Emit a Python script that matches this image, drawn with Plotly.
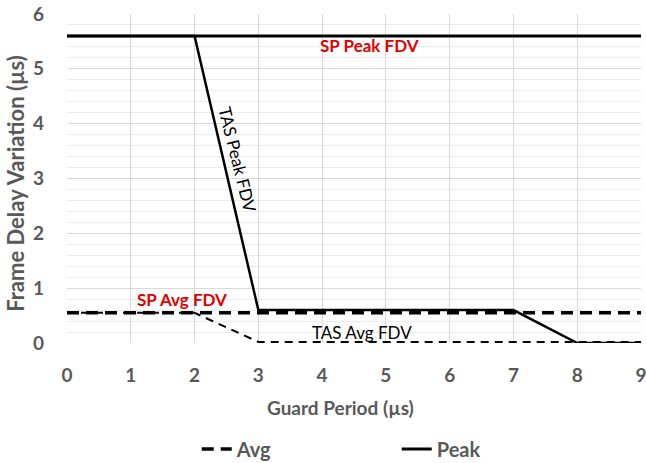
import plotly.graph_objects as go

guard = [0, 1, 2, 3, 4, 5, 6, 7, 8, 9]
sp_peak = [5.6] * 10
tas_peak = [5.6, 5.6, 5.6, 0.6, 0.6, 0.6, 0.6, 0.6, 0.0, 0.0]
sp_avg = [0.55] * 10
tas_avg = [0.55, 0.55, 0.55, 0.02, 0.02, 0.02, 0.02, 0.02, 0.02, 0.02]

grey = "#595959"
FONT = "Lato"

fig = go.Figure()
fig.add_trace(go.Scatter(x=guard, y=tas_avg, mode="lines", showlegend=False,
                         line=dict(color="black", width=2, dash="8px,6px")))
fig.add_trace(go.Scatter(x=guard, y=sp_avg, mode="lines", name="Avg",
                         line=dict(color="black", width=3.5, dash="12px,7px")))
fig.add_trace(go.Scatter(x=guard, y=tas_peak, mode="lines", showlegend=False,
                         line=dict(color="black", width=2.5)))
fig.add_trace(go.Scatter(x=guard, y=sp_peak, mode="lines", name="Peak",
                         line=dict(color="black", width=3)))

ann_font = dict(family=FONT, size=17, color="#e00000", weight=700)
fig.add_annotation(x=4.75, y=5.43, text="SP Peak FDV", showarrow=False, font=ann_font)
fig.add_annotation(x=1.8, y=0.8, text="SP Avg FDV", showarrow=False, font=ann_font)
fig.add_annotation(x=2.67, y=3.34, text="TAS Peak FDV", showarrow=False, textangle=76,
                   font=dict(family=FONT, size=17, color="black"))
fig.add_annotation(x=4.62, y=0.19, text="TAS Avg FDV", showarrow=False,
                   font=dict(family=FONT, size=17, color="black"))
# axis titles
fig.add_annotation(xref="paper", yref="paper", x=-0.09, y=0.485, xanchor="center", yanchor="middle",
                   text="Frame Delay Variation (µs)", textangle=-90, showarrow=False,
                   font=dict(family=FONT, size=22, color=grey, weight=700))
fig.add_annotation(xref="paper", yref="paper", x=0.477, y=-0.195, xanchor="center", yanchor="middle",
                   text="Guard Period (µs)", showarrow=False,
                   font=dict(family=FONT, size=19, color=grey, weight=700))

fig.update_layout(
    width=646, height=463,
    margin=dict(l=67, r=5, t=14, b=120, autoexpand=False),
    plot_bgcolor="white", paper_bgcolor="white",
    font=dict(family=FONT, color=grey),
    legend=dict(orientation="h", x=0.226, xanchor="left", y=-0.322, yanchor="middle",
                font=dict(family=FONT, size=20, color=grey, weight=700), entrywidth=155,
                itemwidth=30),
)
fig.update_xaxes(range=[0, 9], dtick=1, showgrid=True, gridcolor="#d9d9d9", gridwidth=1,
                 zeroline=False, showline=False, automargin=False, ticklabeloverflow="allow",
                 ticklabelstandoff=19,
                 tickfont=dict(family=FONT, size=19, color=grey, weight=700))
fig.update_yaxes(range=[0, 6], dtick=1, showgrid=True, gridcolor="#d9d9d9", gridwidth=1,
                 zeroline=False, showline=False, automargin=False, ticklabeloverflow="allow",
                 minor=dict(dtick=0.2, showgrid=True, gridcolor="#ececec", gridwidth=1),
                 tickfont=dict(family=FONT, size=19, color=grey, weight=700), ticklabelstandoff=22)

fig.write_html("out.html", config={"displayModeBar": False},
               post_script="document.body.style.margin='0';")
